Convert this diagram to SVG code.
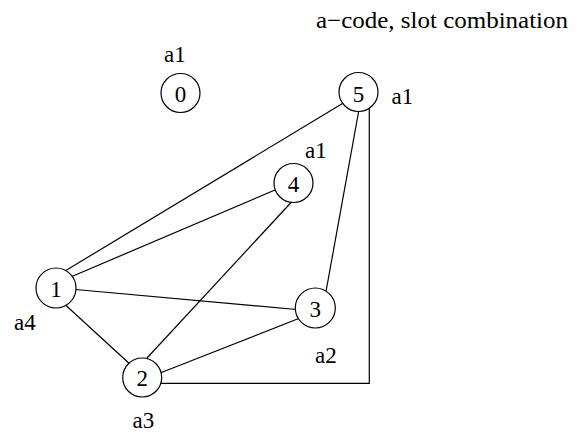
<svg xmlns="http://www.w3.org/2000/svg" width="581" height="433" viewBox="0 0 581 433">
  <style>
    .edge { fill: none; stroke: #000; stroke-width: 1.2; }
    .node circle { fill: #fff; stroke: #000; stroke-width: 1.2; }
    text { font-family: "Liberation Serif", "Times New Roman", serif; font-size: 23px; fill: #000; }
    .num { text-anchor: middle; }
  </style>
  <rect width="581" height="433" fill="#fff"/>
  <text id="title" x="316" y="28" textLength="252" lengthAdjust="spacingAndGlyphs">a−code, slot combination</text>
  <g id="connectors">
    <line class="edge" x1="60" y1="274" x2="345" y2="102"/>
    <line class="edge" x1="66" y1="279" x2="282" y2="187"/>
    <line class="edge" x1="70" y1="289" x2="302" y2="310"/>
    <line class="edge" x1="60" y1="300" x2="132" y2="366"/>
    <line class="edge" x1="147" y1="358" x2="298" y2="195"/>
    <line class="edge" x1="155" y1="375" x2="305" y2="316"/>
    <line class="edge" x1="325" y1="297" x2="360" y2="104"/>
    <polyline class="edge" points="150,383.3 369.3,383.3 369.3,100"/>
  </g>
  <g id="node0" class="node">
    <circle cx="180.5" cy="93" r="19.5"/>
    <text class="num" x="180.5" y="101.5">0</text>
  </g>
  <g id="node5" class="node">
    <circle cx="358.5" cy="92" r="19.5"/>
    <text class="num" x="358.5" y="101.5">5</text>
  </g>
  <g id="node4" class="node">
    <circle cx="293.5" cy="183" r="19.5"/>
    <text class="num" x="293.5" y="191.5">4</text>
  </g>
  <g id="node1" class="node">
    <circle cx="56" cy="288" r="20"/>
    <text class="num" x="56" y="296.5">1</text>
  </g>
  <g id="node3" class="node">
    <circle cx="315.3" cy="308" r="20"/>
    <text class="num" x="315.3" y="316.5">3</text>
  </g>
  <g id="node2" class="node">
    <circle cx="142.2" cy="377.5" r="19.5"/>
    <text class="num" x="142.2" y="386">2</text>
  </g>
  <g id="labels">
    <text x="164" y="62">a1</text>
    <text x="391.5" y="104">a1</text>
    <text x="305" y="158">a1</text>
    <text x="14" y="330">a4</text>
    <text x="315" y="363">a2</text>
    <text x="132.5" y="428">a3</text>
  </g>
</svg>
